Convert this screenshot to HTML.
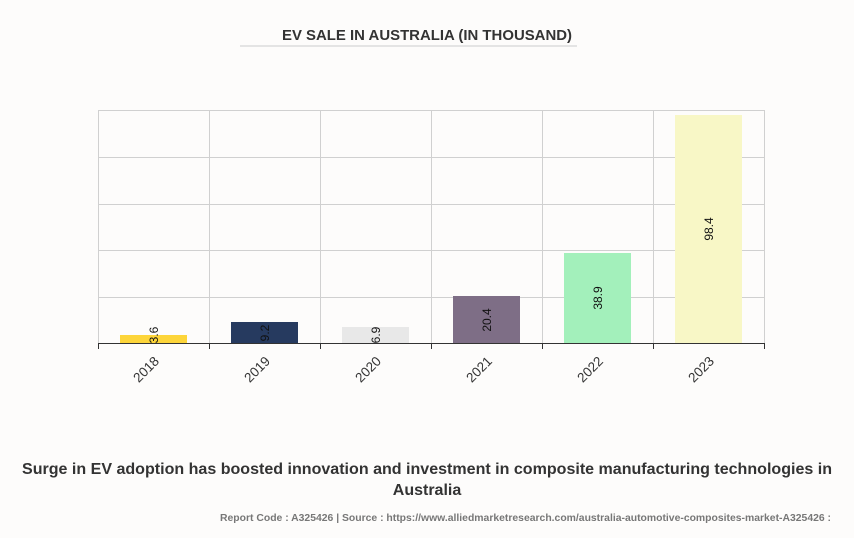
<!DOCTYPE html>
<html><head><meta charset="utf-8"><style>
body{margin:0;background:#fdfcfb;}
svg{display:block;font-family:"Liberation Sans",sans-serif;}
</style></head><body>
<svg width="854" height="538" viewBox="0 0 854 538">
<rect width="854" height="538" fill="#fdfcfb"/>
<text x="427" y="40" text-anchor="middle" font-size="15" font-weight="bold" fill="#333" textLength="290" lengthAdjust="spacingAndGlyphs">EV SALE IN AUSTRALIA (IN THOUSAND)</text>
<line x1="240" y1="46" x2="577" y2="46" stroke="#ccc" stroke-width="1"/>
<g stroke="#d0d0d0" stroke-width="1">
<line x1="98" y1="110.5" x2="764" y2="110.5"/>
<line x1="98" y1="157.5" x2="764" y2="157.5"/>
<line x1="98" y1="204.5" x2="764" y2="204.5"/>
<line x1="98" y1="250.5" x2="764" y2="250.5"/>
<line x1="98" y1="297.5" x2="764" y2="297.5"/>
<line x1="98.5" y1="110" x2="98.5" y2="343"/>
<line x1="209.5" y1="110" x2="209.5" y2="343"/>
<line x1="320.5" y1="110" x2="320.5" y2="343"/>
<line x1="431.5" y1="110" x2="431.5" y2="343"/>
<line x1="542.5" y1="110" x2="542.5" y2="343"/>
<line x1="653.5" y1="110" x2="653.5" y2="343"/>
<line x1="764.5" y1="110" x2="764.5" y2="343"/>
</g>
<rect x="120" y="335" width="67" height="8" fill="#fdd53a"/>
<rect x="231" y="322" width="67" height="21" fill="#263a5f"/>
<rect x="342" y="327" width="67" height="16" fill="#e8e8e8"/>
<rect x="453" y="296" width="67" height="47" fill="#7e6e86"/>
<rect x="564" y="253" width="67" height="90" fill="#a3f0bb"/>
<rect x="675" y="115" width="67" height="228" fill="#f8f7c6"/>
<g font-size="12" fill="#111" text-anchor="middle">
<text transform="translate(158,335) rotate(-90)">3.6</text>
<text transform="translate(269,333) rotate(-90)">9.2</text>
<text transform="translate(380,335) rotate(-90)">6.9</text>
<text transform="translate(491,320) rotate(-90)">20.4</text>
<text transform="translate(602,298) rotate(-90)">38.9</text>
<text transform="translate(713,229) rotate(-90)">98.4</text>
</g>
<g stroke="#333" stroke-width="1">
<line x1="98" y1="343.5" x2="764" y2="343.5"/>
<line x1="98.5" y1="343" x2="98.5" y2="349"/>
<line x1="209.5" y1="343" x2="209.5" y2="349"/>
<line x1="320.5" y1="343" x2="320.5" y2="349"/>
<line x1="431.5" y1="343" x2="431.5" y2="349"/>
<line x1="542.5" y1="343" x2="542.5" y2="349"/>
<line x1="653.5" y1="343" x2="653.5" y2="349"/>
<line x1="764.5" y1="343" x2="764.5" y2="349"/>
</g>
<g font-size="13.5" fill="#333" text-anchor="end">
<text transform="translate(160,362) rotate(-45)">2018</text>
<text transform="translate(271,362) rotate(-45)">2019</text>
<text transform="translate(382,362) rotate(-45)">2020</text>
<text transform="translate(493,362) rotate(-45)">2021</text>
<text transform="translate(604,362) rotate(-45)">2022</text>
<text transform="translate(715,362) rotate(-45)">2023</text>
</g>
<text x="427" y="474" text-anchor="middle" font-size="16" font-weight="bold" fill="#333" textLength="810" lengthAdjust="spacingAndGlyphs">Surge in EV adoption has boosted innovation and investment in composite manufacturing technologies in</text>
<text x="427" y="495" text-anchor="middle" font-size="16" font-weight="bold" fill="#333">Australia</text>
<text x="831" y="521" text-anchor="end" font-size="10.5" font-weight="bold" fill="#777" textLength="611" lengthAdjust="spacingAndGlyphs">Report Code : A325426  |  Source : https://www.alliedmarketresearch.com/australia-automotive-composites-market-A325426 :</text>
</svg>
</body></html>
